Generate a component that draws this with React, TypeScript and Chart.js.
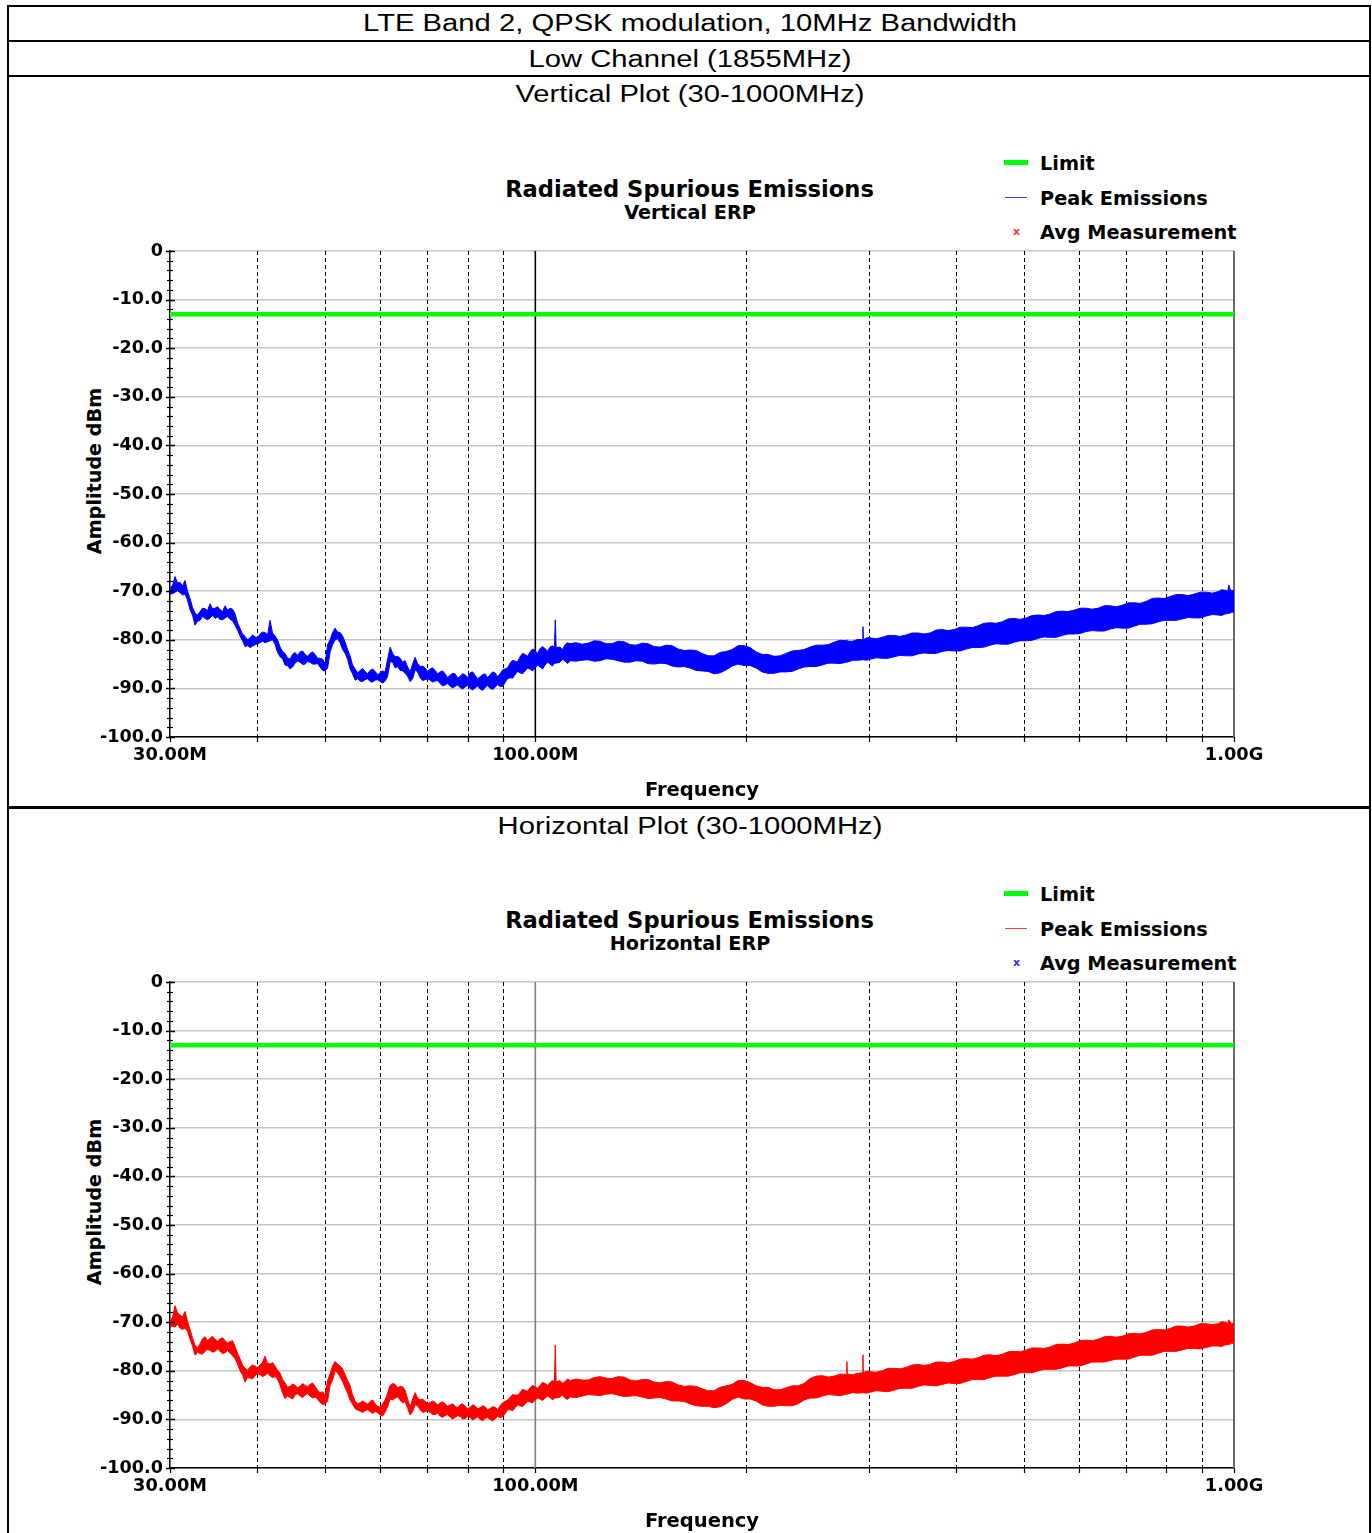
import React, { useEffect, useRef } from 'react';
import { Chart, registerables } from 'chart.js';

Chart.register(...registerables);

// ---------------- DATA ----------------
// Sweep frequencies (MHz) at which the trace envelope was read off the reference
const freqMHz = [
  30.00, 30.50, 31.01, 31.52, 32.05, 32.58, 33.12, 33.67, 34.23, 34.80,
  35.38, 35.97, 36.57, 37.17, 37.79, 38.42, 39.06, 39.71, 40.37, 41.04,
  41.72, 42.41, 43.12, 43.83, 44.56, 45.30, 46.06, 46.82, 47.60, 48.39,
  49.20, 50.02, 50.85, 51.69, 52.55, 53.43, 54.31, 55.22, 56.14, 57.07,
  58.02, 58.98, 59.96, 60.96, 61.97, 63.00, 64.05, 65.11, 66.19, 67.29,
  68.41, 69.55, 70.70, 71.88, 73.07, 74.28, 75.52, 76.77, 78.04, 79.34,
  80.66, 82.00, 83.36, 84.74, 86.15, 87.58, 89.03, 90.51, 92.02, 93.54,
  95.10, 96.68, 98.28, 99.92, 101.58, 103.26, 104.98, 106.5, 106.8, 107.1, 108.49, 110.30,
  112.13,
  116.65, 121.36, 126.25, 131.35, 136.65, 142.16, 147.90, 153.86, 160.07, 166.53,
  173.25, 180.24, 187.51, 195.08, 202.95, 211.14, 219.66, 228.52, 237.74, 247.33,
  257.31, 267.69, 278.9, 279.2, 279.5, 289.73, 294.1, 294.4, 294.7, 301.42,
  313.58, 326.23, 339.39, 353.09, 367.33, 382.15, 397.57, 413.61, 430.30, 447.66,
  465.72, 484.51, 504.06, 524.40, 545.55, 567.56, 590.46, 614.29, 639.07, 664.85,
  691.68, 719.59, 748.62, 778.82, 810.25, 842.94, 876.95, 912.33, 949.14, 970,
  980, 983, 987, 1000,
];

// Vertical ERP peak trace: upper / lower edge of the noisy trace (dBm)
const vertUpper = [
  -69.4, -67.0, -68.2, -67.8, -71.5, -74.5, -74.2, -73.6, -72.6, -73.5,
  -73.8, -73.0, -73.5, -74.6, -77.7, -79.3, -79.6, -79.4, -78.8, -78.5,
  -76.0, -79.2, -81.5, -82.8, -84.0, -82.6, -82.5, -83.0, -82.8, -83.0,
  -83.8, -84.9, -80.0, -77.6, -78.5, -80.5, -83.3, -86.0, -86.3, -86.5,
  -86.3, -86.5, -86.8, -86.6, -81.5, -83.5, -83.8, -84.3, -86.6, -83.6,
  -85.5, -85.8, -86.0, -86.3, -86.6, -87.0, -87.3, -87.0, -87.5, -87.2,
  -86.8, -87.3, -87.6, -87.0, -87.2, -86.8, -87.0, -86.0, -84.8, -84.4,
  -83.5, -83.0, -82.5, -82.2, -81.8, -81.8, -81.5, -81.6, -75.9, -81.6, -81.5, -81.0,
  -80.8,
  -80.9, -80.2, -80.8, -80.3, -81.0, -80.7, -81.4, -81.1, -81.9, -82.1,
  -82.8, -83.3, -82.4, -81.2, -81.6, -83.0, -83.4, -82.8, -82.2, -81.5,
  -81.1, -80.5, -80.2, -80.0, -80.3, -79.9, -80.0, -77.3, -80.0, -79.6,
  -79.5, -79.1, -79.0, -78.6, -78.6, -77.9, -77.9, -77.4, -77.1, -76.5,
  -76.3, -75.6, -75.5, -74.9, -74.7, -74.1, -73.9, -73.5, -73.5, -73.0,
  -72.9, -72.4, -72.1, -71.4, -71.1, -70.7, -70.6, -70.2, -70.1, -69.8,
  -69.9, -68.7, -69.6, -69.8,
];
const vertLower = [
  -70.6, -70.2, -70.3, -70.6, -73.8, -77.0, -76.0, -75.6, -75.5, -75.6,
  -75.8, -75.5, -75.8, -77.0, -79.2, -81.4, -81.6, -81.0, -80.6, -80.6,
  -80.2, -80.9, -83.5, -85.2, -86.0, -84.8, -84.6, -85.0, -84.6, -85.0,
  -85.6, -86.4, -82.5, -80.0, -80.6, -82.8, -86.0, -88.3, -88.5, -88.2,
  -88.6, -88.3, -88.6, -88.5, -84.5, -85.8, -86.3, -86.9, -88.6, -86.2,
  -87.8, -88.2, -88.3, -88.5, -89.0, -89.3, -89.5, -89.6, -89.8, -89.7,
  -90.0, -89.9, -90.1, -89.8, -90.0, -89.8, -89.6, -88.8, -87.8, -87.2,
  -86.8, -86.4, -86.0, -85.8, -85.6, -85.2, -85.0, -84.8, -84.8, -84.8, -84.6, -84.4,
  -84.3,
  -84.2, -84.4, -83.9, -84.3, -84.6, -84.4, -85.0, -84.9, -85.6, -85.8,
  -86.4, -87.0, -86.2, -85.0, -85.3, -86.6, -86.9, -86.6, -86.0, -85.5,
  -85.2, -84.8, -84.6, -84.5, -84.6, -84.2, -84.1, -84.1, -84.1, -84.0,
  -83.8, -83.5, -83.3, -82.9, -82.8, -82.4, -82.3, -81.9, -81.6, -81.1,
  -80.9, -80.5, -80.2, -79.7, -79.5, -79.1, -78.8, -78.3, -78.2, -77.8,
  -77.6, -77.2, -76.8, -76.3, -76.0, -75.7, -75.5, -75.1, -74.9, -74.7,
  -74.6, -74.6, -74.5, -74.3,
];

// Horizontal ERP peak trace: upper / lower edge (dBm)
const horzUpper = [
  -69.8, -66.6, -68.5, -67.8, -71.5, -74.8, -74.5, -73.0, -73.3, -73.5,
  -73.4, -73.8, -74.0, -75.0, -77.5, -79.5, -79.2, -79.0, -78.8, -77.0,
  -78.6, -79.0, -80.5, -82.5, -83.2, -83.0, -83.2, -83.0, -82.8, -83.2,
  -84.5, -85.2, -80.6, -78.1, -79.0, -80.8, -83.0, -86.2, -86.6, -86.5,
  -86.3, -86.8, -87.5, -86.0, -83.0, -82.8, -83.2, -84.0, -87.5, -84.5,
  -86.0, -86.3, -86.5, -86.5, -86.6, -86.8, -87.0, -87.3, -87.0, -87.3,
  -87.5, -87.2, -87.6, -87.4, -87.8, -87.5, -87.2, -86.3, -85.5, -85.0,
  -84.5, -84.0, -83.5, -83.3, -83.0, -82.6, -82.4, -82.3, -74.7, -82.3, -82.0, -82.2,
  -82.0,
  -81.9, -81.4, -81.5, -81.2, -81.9, -81.8, -82.3, -82.2, -82.9, -83.1,
  -83.7, -84.1, -83.1, -82.0, -82.4, -83.4, -83.9, -83.5, -83.1, -81.6,
  -81.0, -81.1, -80.7, -78.1, -80.7, -80.5, -80.4, -76.7, -80.4, -80.2,
  -80.0, -79.5, -79.3, -78.7, -78.7, -78.2, -78.1, -77.5, -77.3, -76.7,
  -76.6, -76.0, -75.7, -75.3, -75.1, -74.5, -74.3, -73.7, -73.5, -72.9,
  -72.9, -72.3, -72.1, -71.5, -71.3, -70.8, -70.8, -70.3, -70.3, -70.0,
  -70.2, -69.5, -70.0, -70.3,
];
const horzLower = [
  -71.0, -71.0, -71.2, -71.2, -73.5, -76.8, -76.4, -76.0, -75.8, -76.0,
  -76.0, -76.3, -76.4, -77.5, -80.0, -82.3, -81.5, -81.0, -80.8, -80.9,
  -81.0, -81.2, -83.0, -85.7, -85.5, -85.0, -85.2, -85.0, -85.2, -85.4,
  -86.5, -86.8, -83.0, -80.0, -81.3, -83.5, -86.0, -87.8, -88.3, -88.2,
  -88.4, -88.4, -89.1, -88.5, -85.8, -85.6, -86.0, -86.3, -89.1, -87.0,
  -88.0, -88.4, -88.6, -89.0, -89.3, -89.2, -89.5, -89.6, -89.4, -89.8,
  -89.6, -89.8, -90.0, -89.8, -90.0, -89.9, -89.6, -88.8, -88.0, -87.6,
  -87.2, -86.8, -86.4, -86.0, -85.8, -85.6, -85.5, -85.6, -85.6, -85.6, -85.4, -85.6,
  -85.4,
  -85.2, -85.0, -84.8, -85.0, -85.2, -85.4, -85.6, -85.8, -86.2, -86.8,
  -87.3, -87.6, -86.8, -85.4, -85.8, -87.0, -87.3, -87.2, -86.8, -85.6,
  -85.2, -85.0, -84.8, -84.8, -84.8, -84.6, -84.5, -84.5, -84.5, -84.4,
  -84.2, -84.0, -83.6, -83.2, -83.0, -82.8, -82.6, -82.2, -81.8, -81.4,
  -81.1, -80.8, -80.4, -80.0, -79.7, -79.4, -79.0, -78.6, -78.2, -77.9,
  -77.6, -77.2, -76.8, -76.4, -76.0, -75.7, -75.4, -75.2, -74.9, -74.7,
  -74.6, -74.6, -74.5, -74.4,
];

// Additional in-between readings of the ragged trace edges
const fineFreqMHz = [
  30.25, 30.75, 31.27, 31.78, 32.32, 32.85, 33.39, 33.95, 34.51, 35.09,
  35.67, 36.27, 36.87, 37.48, 38.10, 38.74, 39.38, 40.04, 40.70, 41.38,
  42.06, 42.76, 43.48, 44.19, 44.93, 45.67, 46.44, 47.21, 47.99, 48.79,
  49.61, 50.43, 51.27, 52.12, 52.98, 53.87, 54.76, 55.68, 56.60, 57.54,
  58.50, 59.47, 60.46, 61.46, 62.48, 63.52, 64.58, 65.65, 66.74, 67.85,
  68.98, 70.13, 71.28, 72.47, 73.67, 74.89, 76.14, 77.40, 78.69, 80.00,
  81.33, 82.68, 84.05, 85.44, 86.86, 88.30, 89.77, 91.26, 92.78, 94.31,
  95.89, 97.49, 99.09, 100.74, 102.42, 104.11, 105.85, 109.39, 111.21,
  114.37, 118.98, 123.79, 128.78, 133.98, 139.38, 145.00, 150.86, 156.94, 163.27,
  169.86, 176.71, 183.84, 191.26, 198.98, 207.01, 215.36, 224.05, 233.09, 242.49,
  252.28, 262.45, 273.04, 284.50, 298.00, 307.45, 319.85, 332.75, 346.18, 360.15,
  374.68, 389.79, 405.52, 421.88, 438.91, 456.61, 475.03, 494.20, 514.14, 534.89,
  556.46, 578.91, 602.27, 626.58, 651.85, 678.15, 705.51, 733.98, 763.59, 794.40,
  826.46, 859.80, 894.49, 930.58, 960.00, 993.00,
];
const vertUpperFine = [
  -68.8, -68.3, -68.9, -70.0, -73.4, -74.9, -73.5, -74.0, -73.6, -73.2,
  -74.2, -73.9, -73.7, -76.5, -78.8, -80.0, -79.0, -79.6, -78.4, -79.0,
  -78.6, -80.0, -82.4, -83.7, -83.0, -83.2, -82.3, -83.4, -82.5, -83.8,
  -84.0, -81.0, -78.5, -78.4, -79.2, -82.0, -85.2, -86.8, -85.9, -87.0,
  -86.0, -87.2, -86.4, -84.0, -82.8, -83.4, -84.6, -85.6, -85.0, -84.9,
  -85.4, -86.5, -85.8, -87.0, -86.4, -87.8, -86.9, -87.9, -87.0, -87.8,
  -86.6, -88.0, -87.2, -87.8, -86.6, -87.6, -86.2, -85.8, -84.2, -84.5,
  -82.8, -83.4, -81.9, -82.8, -81.4, -82.4, -81.2, -82.0, -80.6,
  -80.6, -80.7, -80.3, -80.8, -80.4, -81.1, -80.8, -81.5, -81.2, -82.2,
  -82.2, -83.3, -82.6, -82.0, -81.2, -82.5, -83.0, -83.3, -82.3, -82.0,
  -81.1, -81.0, -80.1, -80.3, -79.6, -79.8, -79.1, -79.3, -78.6, -78.8,
  -78.0, -78.1, -77.4, -77.5, -76.6, -76.6, -75.7, -75.8, -75.0, -75.0,
  -74.2, -74.2, -73.5, -73.7, -73.0, -73.2, -72.4, -72.5, -71.5, -71.5,
  -70.7, -70.9, -70.2, -70.4, -69.7, -69.9,
];
const vertLowerFine = [
  -70.5, -69.9, -70.8, -71.8, -75.0, -76.2, -75.2, -75.9, -75.0, -75.3,
  -75.9, -75.2, -76.1, -78.0, -80.2, -81.2, -81.3, -80.8, -80.3, -80.4,
  -80.0, -82.6, -83.9, -85.3, -85.6, -84.4, -85.1, -84.5, -85.0, -84.9,
  -86.3, -85.8, -81.0, -79.8, -82.0, -84.0, -87.0, -88.0, -88.6, -88.0,
  -88.7, -88.2, -88.9, -87.5, -84.6, -85.5, -86.4, -87.5, -88.0, -86.6,
  -88.4, -88.0, -88.7, -88.4, -89.5, -89.0, -89.9, -89.3, -90.1, -89.4,
  -90.3, -89.5, -90.4, -89.4, -90.2, -89.2, -89.6, -88.0, -87.9, -86.5,
  -87.0, -85.8, -86.4, -85.2, -86.0, -84.6, -85.4, -84.0, -84.9,
  -84.4, -84.1, -84.3, -84.0, -84.6, -84.3, -84.9, -84.8, -85.4, -85.5,
  -86.3, -86.5, -86.8, -85.4, -85.3, -85.8, -86.9, -86.6, -86.5, -85.6,
  -85.5, -84.8, -84.9, -84.2, -84.2, -83.7, -83.8, -83.2, -83.3, -82.7,
  -82.8, -82.2, -82.3, -81.6, -81.5, -80.8, -80.9, -80.2, -80.1, -79.4,
  -79.5, -78.8, -78.7, -78.1, -78.2, -77.5, -77.6, -76.8, -76.7, -76.0,
  -76.0, -75.4, -75.5, -74.8, -75.0, -74.3,
];
const horzUpperFine = [
  -69.0, -68.0, -68.9, -69.8, -73.3, -75.2, -73.4, -73.8, -72.9, -73.9,
  -73.2, -74.3, -73.8, -76.4, -78.8, -79.9, -78.8, -79.4, -78.2, -78.5,
  -78.3, -79.9, -81.8, -83.4, -82.7, -83.5, -82.6, -83.3, -82.5, -84.0,
  -84.3, -82.0, -79.0, -78.6, -79.6, -82.0, -85.0, -86.8, -86.2, -86.9,
  -86.0, -87.3, -86.8, -84.6, -82.6, -83.5, -83.3, -85.8, -85.8, -85.6,
  -85.8, -86.8, -86.2, -87.0, -86.4, -87.3, -86.8, -87.6, -86.8, -87.8,
  -87.0, -87.8, -87.2, -88.0, -87.4, -88.0, -86.6, -86.0, -84.9, -85.0,
  -83.8, -84.2, -83.0, -83.6, -82.4, -83.0, -82.0, -82.6, -81.7,
  -81.7, -81.9, -81.2, -81.6, -81.3, -82.1, -81.8, -82.5, -82.3, -83.2,
  -83.2, -84.1, -83.4, -82.8, -82.0, -83.1, -83.4, -83.9, -83.1, -82.6,
  -81.1, -81.3, -80.7, -80.8, -80.1, -80.3, -79.5, -79.6, -78.8, -78.9,
  -78.2, -78.4, -77.6, -77.6, -76.8, -76.9, -76.1, -76.1, -75.3, -75.4,
  -74.6, -74.6, -73.8, -73.8, -73.0, -73.1, -72.4, -72.4, -71.6, -71.6,
  -70.8, -71.0, -70.3, -70.5, -69.9, -70.3,
];
const horzLowerFine = [
  -70.8, -70.4, -71.5, -71.9, -75.0, -76.2, -76.6, -75.6, -76.2, -75.5,
  -76.5, -75.8, -76.9, -78.6, -80.8, -81.4, -81.7, -80.6, -81.2, -80.5,
  -81.4, -81.7, -84.6, -85.2, -85.8, -84.7, -85.5, -84.7, -85.6, -85.8,
  -87.0, -86.2, -81.9, -80.4, -82.2, -84.6, -86.9, -88.1, -88.6, -88.0,
  -88.8, -88.6, -89.3, -87.4, -86.0, -85.4, -86.6, -87.7, -88.4, -87.2,
  -88.6, -88.2, -89.0, -88.7, -89.6, -89.0, -89.9, -89.2, -89.9, -89.4,
  -90.1, -89.5, -90.3, -89.6, -90.3, -89.4, -89.5, -88.0, -88.2, -87.0,
  -87.4, -86.3, -86.6, -85.6, -86.1, -85.2, -86.0, -85.0, -85.9,
  -85.5, -84.9, -85.1, -84.7, -85.3, -85.1, -85.7, -85.5, -86.2, -86.3,
  -87.2, -87.3, -87.4, -85.9, -85.8, -86.2, -87.3, -87.1, -87.2, -86.0,
  -85.6, -84.9, -85.1, -84.5, -84.6, -84.1, -84.3, -83.6, -83.6, -82.9,
  -83.1, -82.5, -82.6, -81.8, -81.8, -81.1, -81.1, -80.4, -80.4, -79.7,
  -79.7, -79.0, -79.0, -78.2, -78.2, -77.6, -77.6, -76.8, -76.8, -76.0,
  -76.0, -75.4, -75.5, -74.9, -75.0, -74.3,
];

const limitDbm = -13;
const limitFreqs = [30, 1000];

// Axis settings
const yMin = -100;
const yMax = 0;
const yStep = 10;
const yMinorStep = 2;
const xMin = 30;
const xMax = 1000;
const xLabelFreqs = [30, 100, 1000];
const xLabelTexts = ['30.00M', '100.00M', '1.00G'];
const dashedGridFreqs = [40, 50, 60, 70, 80, 90, 200, 300, 400, 500, 600, 700, 800, 900];
const solidGridFreqs = [100];
const allTickFreqs = [30, 40, 50, 60, 70, 80, 90, 100, 200, 300, 400, 500, 600, 700, 800, 900, 1000];

// ---------------- STYLE ----------------
const CHART_FONT = '"DejaVu Sans", Verdana, sans-serif';
const TABLE_FONT = '"Liberation Sans", Arial, sans-serif';

const CANVAS_LEFT = 80;
const CANVAS_W = 1210;
const CANVAS_H = 563;

type Pt = { x: number; u: number; l: number };

function buildTrace(upper: number[], lower: number[], upperFine: number[], lowerFine: number[]) {
  const pts: Pt[] = [];
  const n = Math.min(freqMHz.length, upper.length, lower.length);
  for (let i = 0; i < n; i++) pts.push({ x: freqMHz[i], u: upper[i], l: lower[i] });
  const m = Math.min(fineFreqMHz.length, upperFine.length, lowerFine.length);
  for (let i = 0; i < m; i++) pts.push({ x: fineFreqMHz[i], u: upperFine[i], l: lowerFine[i] });
  pts.sort((a, b) => a.x - b.x);
  return {
    up: pts.map((p) => ({ x: p.x, y: p.u })),
    lo: pts.map((p) => ({ x: p.x, y: p.l })),
  };
}

function SpectrumChart(props: {
  upper: number[];
  lower: number[];
  upperFine: number[];
  lowerFine: number[];
  traceColor: string;
  refLineColor: string;
  top: number;
}) {
  const ref = useRef<HTMLCanvasElement | null>(null);
  useEffect(() => {
    const canvas = ref.current;
    if (!canvas) return;
    const { traceColor, refLineColor } = props;
    const trace = buildTrace(props.upper, props.lower, props.upperFine, props.lowerFine);
    const limitData = limitFreqs.map((f) => ({ x: f, y: limitDbm }));

    const decor = {
      id: 'decor',
      beforeDatasetsDraw(chart: any) {
        const { ctx, chartArea: a, scales } = chart;
        const x = scales.x;
        ctx.save();
        ctx.strokeStyle = '#000';
        ctx.lineWidth = 1;
        ctx.setLineDash([4, 3]);
        for (const f of dashedGridFreqs) {
          const px = Math.round(x.getPixelForValue(f)) + 0.5;
          ctx.beginPath();
          ctx.moveTo(px, a.top);
          ctx.lineTo(px, a.bottom);
          ctx.stroke();
        }
        ctx.setLineDash([]);
        ctx.strokeStyle = refLineColor;
        ctx.lineWidth = 1.6;
        for (const f of solidGridFreqs) {
          const px = x.getPixelForValue(f);
          ctx.beginPath();
          ctx.moveTo(px, a.top);
          ctx.lineTo(px, a.bottom);
          ctx.stroke();
        }
        ctx.strokeStyle = '#6a6a6a';
        ctx.lineWidth = 2;
        ctx.beginPath();
        ctx.moveTo(a.right, a.top);
        ctx.lineTo(a.right, a.bottom);
        ctx.stroke();
        ctx.restore();
      },
      afterDatasetsDraw(chart: any) {
        const { ctx, chartArea: a, scales } = chart;
        const x = scales.x;
        const y = scales.y;
        ctx.save();
        ctx.strokeStyle = '#000';
        ctx.lineWidth = 1.2;
        for (const f of allTickFreqs) {
          const px = Math.round(x.getPixelForValue(f)) + 0.5;
          ctx.beginPath();
          ctx.moveTo(px, a.bottom);
          ctx.lineTo(px, a.bottom + 5);
          ctx.stroke();
        }
        for (let v = yMin; v <= yMax; v += yMinorStep) {
          const py = Math.round(y.getPixelForValue(v)) + 0.5;
          const major = v % yStep === 0;
          ctx.lineWidth = major ? 1.5 : 1.2;
          ctx.beginPath();
          ctx.moveTo(a.left - (major ? 4 : 3), py);
          ctx.lineTo(a.left + (major ? 5 : 3), py);
          ctx.stroke();
        }
        ctx.restore();
      },
    };

    const chart = new Chart(canvas, {
      type: 'line',
      data: {
        datasets: [
          {
            label: 'Limit',
            data: limitData,
            borderColor: '#00ff00',
            backgroundColor: '#00ff00',
            borderWidth: 4.5,
            pointRadius: 0,
            fill: false,
          },
          {
            label: 'Peak Emissions',
            data: trace.up,
            borderColor: traceColor,
            backgroundColor: traceColor,
            borderWidth: 1,
            pointRadius: 0,
            tension: 0,
            fill: '+1',
          },
          {
            label: 'Peak Emissions (lower edge)',
            data: trace.lo,
            borderColor: traceColor,
            backgroundColor: traceColor,
            borderWidth: 1,
            pointRadius: 0,
            tension: 0,
            fill: false,
          },
          {
            label: 'Avg Measurement',
            data: [],
            borderColor: traceColor,
            pointRadius: 0,
            fill: false,
          },
        ],
      },
      options: {
        responsive: false,
        animation: false,
        events: [],
        layout: { padding: { top: 11, right: 56, bottom: 0, left: 0 } },
        plugins: {
          legend: { display: false },
          tooltip: { enabled: false },
          title: { display: false },
        },
        scales: {
          x: {
            type: 'logarithmic',
            min: xMin,
            max: xMax,
            bounds: 'data',
            grid: { display: false },
            border: { display: true, color: '#000', width: 1.5 },
            afterBuildTicks: (s: any) => {
              s.ticks = allTickFreqs.map((v) => ({ value: v }));
            },
            ticks: {
              autoSkip: false,
              maxRotation: 0,
              minRotation: 0,
              padding: 0,
              color: '#000',
              font: { family: CHART_FONT, size: 17.8, weight: 'bold' },
              callback: (v: any) => {
                const i = xLabelFreqs.indexOf(Number(v));
                return i >= 0 ? xLabelTexts[i] : '';
              },
            },
            title: {
              display: true,
              text: 'Frequency',
              color: '#000',
              font: { family: CHART_FONT, size: 19.5, weight: 'bold' },
              padding: { top: 0, bottom: 0 },
            },
            afterFit: (s: any) => {
              s.height = 66;
              s.paddingLeft = 0;
              s.paddingRight = 0;
            },
          } as any,
          y: {
            type: 'linear',
            min: yMin,
            max: yMax,
            ticks: {
              stepSize: yStep,
              padding: 7,
              color: '#000',
              font: { family: CHART_FONT, size: 17.6, weight: 'bold' },
              callback: (v: any) => (Number(v) === 0 ? '0' : Number(v).toFixed(1)),
            },
            grid: { color: '#c6c6c6', lineWidth: 1.5, drawTicks: false },
            border: { display: true, color: '#000', width: 1.5 },
            afterFit: (s: any) => {
              s.width = 90;
              s.paddingTop = 0;
              s.paddingBottom = 0;
            },
          } as any,
        },
      },
      plugins: [decor],
    } as any);
    return () => chart.destroy();
  }, []);
  return (
    <canvas
      ref={ref}
      width={CANVAS_W}
      height={CANVAS_H}
      style={{
        position: 'absolute',
        left: CANVAS_LEFT,
        top: props.top,
        width: CANVAS_W,
        height: CANVAS_H,
        display: 'block',
      }}
    />
  );
}

function Line(props: { left: number; top: number; width: number; height: number; color?: string }) {
  return (
    <div
      style={{
        position: 'absolute',
        left: props.left,
        top: props.top,
        width: props.width,
        height: props.height,
        background: props.color || '#000',
      }}
    />
  );
}

function TableText(props: { text: string; cy: number }) {
  return (
    <div
      style={{
        position: 'absolute',
        left: 689.5,
        top: props.cy,
        transform: 'translate(-50%, -50%) scaleX(1.27)',
        fontFamily: TABLE_FONT,
        fontSize: 23,
        lineHeight: '23px',
        whiteSpace: 'nowrap',
        color: '#000',
      }}
    >
      {props.text}
    </div>
  );
}

function CenterText(props: { text: string; cx: number; cy: number; size: number; rotate?: boolean; color?: string }) {
  return (
    <div
      style={{
        position: 'absolute',
        left: props.cx,
        top: props.cy,
        transform: 'translate(-50%, -50%)' + (props.rotate ? ' rotate(-90deg)' : ''),
        fontFamily: CHART_FONT,
        fontWeight: 'bold',
        fontSize: props.size,
        lineHeight: props.size + 'px',
        whiteSpace: 'nowrap',
        color: props.color || '#000',
      }}
    >
      {props.text}
    </div>
  );
}

function LeftText(props: { text: string; x: number; cy: number; size: number }) {
  return (
    <div
      style={{
        position: 'absolute',
        left: props.x,
        top: props.cy,
        transform: 'translateY(-50%)',
        fontFamily: CHART_FONT,
        fontWeight: 'bold',
        fontSize: props.size,
        lineHeight: props.size + 'px',
        whiteSpace: 'nowrap',
        color: '#000',
      }}
    >
      {props.text}
    </div>
  );
}

function PlotBlock(props: {
  offset: number;
  subtitle: string;
  upper: number[];
  lower: number[];
  upperFine: number[];
  lowerFine: number[];
  traceColor: string;
  legendTraceColor: string;
  avgColor: string;
  refLineColor: string;
}) {
  const o = props.offset;
  return (
    <>
      <CenterText text="Radiated Spurious Emissions" cx={689.5} cy={189 + o} size={22.6} />
      <CenterText text={props.subtitle} cx={690} cy={213 + o} size={19.2} />
      <Line left={1004} top={160 + o} width={24} height={4.5} color="#00ff00" />
      <LeftText text="Limit" x={1040} cy={164 + o} size={19.3} />
      <Line left={1005} top={196.5 + o} width={22} height={1.5} color={props.legendTraceColor} />
      <LeftText text="Peak Emissions" x={1040} cy={199 + o} size={19.3} />
      <CenterText text="x" cx={1016.5} cy={231 + o} size={11} color={props.avgColor} />
      <LeftText text="Avg Measurement" x={1040} cy={233 + o} size={19.3} />
      <CenterText text="Amplitude dBm" cx={95} cy={470.5 + o} size={19.2} rotate />
      <SpectrumChart
        upper={props.upper}
        lower={props.lower}
        upperFine={props.upperFine}
        lowerFine={props.lowerFine}
        traceColor={props.traceColor}
        refLineColor={props.refLineColor}
        top={240 + o}
      />
    </>
  );
}

export default function App() {
  return (
    <div
      style={{
        position: 'absolute',
        left: 0,
        top: 0,
        width: 1372,
        height: 1533,
        overflow: 'hidden',
        background: '#fff',
      }}
    >
      <Line left={7} top={5} width={1364} height={2} />
      <Line left={7} top={40} width={1364} height={2} />
      <Line left={7} top={75} width={1364} height={2} />
      <Line left={7} top={806} width={1364} height={3} />
      <Line left={7} top={5} width={2} height={1528} />
      <Line left={1369} top={5} width={2} height={1528} />

      <TableText text="LTE Band 2, QPSK modulation, 10MHz Bandwidth" cy={23} />
      <TableText text="Low Channel (1855MHz)" cy={58.5} />
      <TableText text="Vertical Plot (30-1000MHz)" cy={94} />
      <TableText text="Horizontal Plot (30-1000MHz)" cy={826} />

      <PlotBlock
        offset={0}
        subtitle="Vertical ERP"
        upper={vertUpper}
        lower={vertLower}
        upperFine={vertUpperFine}
        lowerFine={vertLowerFine}
        traceColor="#0000ff"
        legendTraceColor="#3c3cff"
        avgColor="#ff3030"
        refLineColor="#000000"
      />
      <PlotBlock
        offset={731}
        subtitle="Horizontal ERP"
        upper={horzUpper}
        lower={horzLower}
        upperFine={horzUpperFine}
        lowerFine={horzLowerFine}
        traceColor="#ff0000"
        legendTraceColor="#ff3c3c"
        avgColor="#3030ff"
        refLineColor="#808080"
      />
    </div>
  );
}
